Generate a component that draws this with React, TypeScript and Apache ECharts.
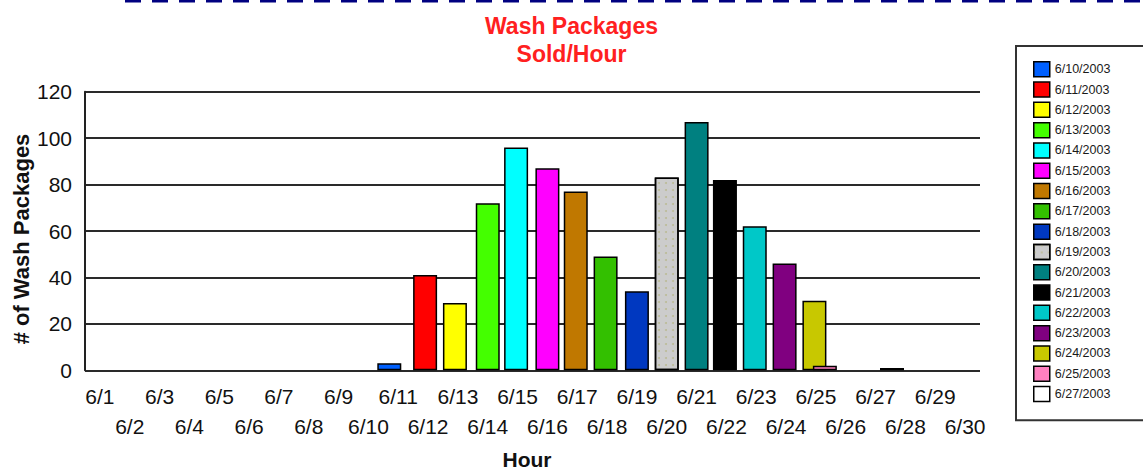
import React, { useEffect, useRef } from "react";
import * as echarts from "echarts";

const axisDays: string[] = Array.from({ length: 30 }, (_, i) => `6/${i + 1}`);
const seriesDates: string[] = [
  "6/10/2003", "6/11/2003", "6/12/2003", "6/13/2003", "6/14/2003", "6/15/2003",
  "6/16/2003", "6/17/2003", "6/18/2003", "6/19/2003", "6/20/2003", "6/21/2003",
  "6/22/2003", "6/23/2003", "6/24/2003", "6/25/2003", "6/27/2003",
];
// position of each bar along the day axis (0 = start of 6/1, 30 = end of 6/30)
const barPositions: number[] = [
  10.2, 11.4, 12.4, 13.5, 14.45, 15.5, 16.45, 17.45, 18.5, 19.5, 20.5, 21.45,
  22.45, 23.45, 24.45, 24.8, 27.05,
];
const packagesSold: number[] = [3, 41, 29, 72, 96, 87, 77, 49, 34, 83, 107, 82, 62, 46, 30, 2, 1];
const seriesColors: string[] = [
  "#0060ff", "#ff0000", "#ffff00", "#44ff00", "#00ffff", "#ff00ff", "#c07800",
  "#33c000", "#0038c0", "#cccccc", "#008080", "#000000", "#00c8c8", "#800080",
  "#c8c800", "#ff80c0", "#ffffff",
];
const yTicks = { min: 0, max: 120, interval: 20 };

const FONT = 'Arial, "Liberation Sans", sans-serif';

export default function App() {
  const ref = useRef<HTMLDivElement>(null);
  useEffect(() => {
    if (!ref.current) return;
    const chart = echarts.init(ref.current, null, { renderer: "svg" });
    const series = seriesDates.map((name, i) => {
      const itemStyle: any = { color: seriesColors[i], borderColor: "#000", borderWidth: 1.5 };
      if (name === "6/19/2003") {
        itemStyle.decal = {
          symbol: "circle",
          symbolSize: 1,
          color: "rgba(180,180,130,0.7)",
          dashArrayX: [2, 5],
          dashArrayY: [2, 5],
        };
      }
      return {
        name,
        type: "bar",
        xAxisIndex: 1,
        barWidth: 24,
        barGap: "-100%",
        itemStyle,
        data: [[barPositions[i], packagesSold[i]]],
      };
    });
    chart.setOption({
      animation: false,
      backgroundColor: "#ffffff",
      title: {
        text: "Wash Packages\nSold/Hour",
        left: "center",
        top: 7,
        textStyle: { color: "#ff2020", fontSize: 23, fontWeight: "bold", fontFamily: FONT, lineHeight: 28 },
      },
      legend: {
        orient: "vertical",
        left: 1016,
        top: 46,
        padding: [15, 80, 18, 17],
        itemWidth: 16,
        itemHeight: 15,
        itemGap: 3.8,
        icon: "rect",
        borderColor: "#333",
        borderWidth: 2,
        itemStyle: { borderColor: "#000", borderWidth: 1.5 },
        textStyle: { fontSize: 12.5, color: "#1a1a1a", fontFamily: FONT },
        data: seriesDates,
      },
      grid: { left: 85, right: 163, top: 91.7, bottom: 100.7, containLabel: false },
      xAxis: [
        {
          type: "category",
          data: axisDays,
          boundaryGap: true,
          axisLine: { show: false },
          axisTick: { show: false },
          axisLabel: {
            interval: 0,
            margin: 11,
            fontSize: 21,
            lineHeight: 30,
            color: "#111",
            fontFamily: FONT,
            verticalAlign: "top",
            formatter: (v: string, i: number) => (i % 2 === 1 ? "\n" + v : v),
          },
        },
        { type: "value", min: 0, max: 30, show: false },
      ],
      yAxis: {
        type: "value",
        min: yTicks.min,
        max: yTicks.max,
        interval: yTicks.interval,
        axisLine: { show: true, lineStyle: { color: "#222", width: 2 } },
        axisTick: { show: false },
        splitLine: { show: true, lineStyle: { color: "#2a2a2a", width: 2 } },
        axisLabel: { fontSize: 21, color: "#111", margin: 13, fontFamily: FONT },
      },
      graphic: [
        {
          type: "line",
          shape: { x1: 125, y1: 1, x2: 1143, y2: 1 },
          style: { stroke: "#000080", lineWidth: 3, lineDash: [16, 11] },
        },
        {
          type: "text",
          x: 21,
          y: 239,
          rotation: Math.PI / 2,
          style: {
            text: "# of Wash Packages",
            fontSize: 22,
            fontWeight: "bold",
            fontFamily: FONT,
            fill: "#111",
            align: "center",
            verticalAlign: "middle",
          },
        },
        {
          type: "text",
          x: 527,
          y: 459,
          style: {
            text: "Hour",
            fontSize: 21,
            fontWeight: "bold",
            fontFamily: FONT,
            fill: "#111",
            align: "center",
            verticalAlign: "middle",
          },
        },
      ],
      series,
    });
    return () => chart.dispose();
  }, []);
  return (
    <div
      ref={ref}
      style={{ position: "fixed", left: 0, top: 0, width: 1143, height: 471, background: "#fff" }}
    />
  );
}
